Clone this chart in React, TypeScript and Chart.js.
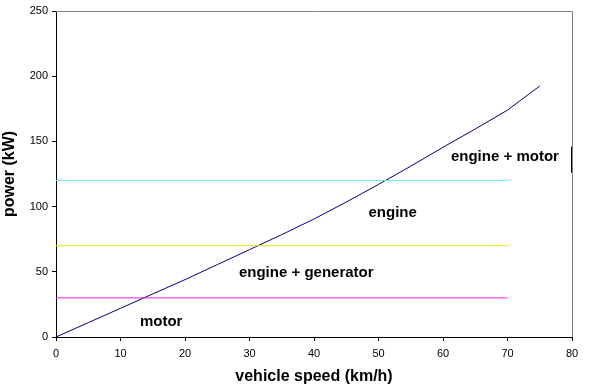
import React, { useEffect, useRef } from "react";
import { Chart, registerables } from "chart.js";

Chart.register(...registerables);

const speeds = [0, 5, 10, 15, 20, 25, 30, 35, 40, 45, 50, 55, 60, 65, 70, 75];
const power = [0, 11, 22, 33, 44, 55.5, 67, 78.5, 90.5, 103.5, 117, 131, 145.5, 159.5, 174, 192.5];

const thresholdX = [0, 70];
const motorLimit = 30;
const generatorLimit = 70;
const engineLimit = 120;

const markerX = [80, 80];
const markerY = [126, 146];

const regionNames = ["engine + motor", "engine", "engine + generator", "motor"];
const regionSpeed = [69.6, 52.2, 38.8, 16.3];
const regionPower = [138, 95, 49, 11.5];

const xTicks = [0, 10, 20, 30, 40, 50, 60, 70, 80];
const yTicks = [0, 50, 100, 150, 200, 250];

const FONT = "'Liberation Sans', Arial, sans-serif";

export default function App() {
  const ref = useRef<HTMLCanvasElement | null>(null);
  useEffect(() => {
    document.body.style.margin = "0";
    const ctx = ref.current!;
    const hline = (v: number, color: string) => ({
      data: thresholdX.map((x) => ({ x, y: v })),
      borderColor: color,
      borderWidth: 1,
      pointRadius: 0,
      showLine: true,
      fill: false,
    });
    const borderPlugin = {
      id: "frame",
      beforeDatasetsDraw(chart: any) {
        const { ctx, chartArea } = chart;
        ctx.save();
        ctx.strokeStyle = "#808080";
        ctx.lineWidth = 1;
        ctx.beginPath();
        ctx.moveTo(chartArea.left, Math.round(chartArea.top) + 0.5);
        ctx.lineTo(Math.round(chartArea.right) + 0.5, Math.round(chartArea.top) + 0.5);
        ctx.lineTo(Math.round(chartArea.right) + 0.5, chartArea.bottom);
        ctx.stroke();
        ctx.restore();
      },
      afterDatasetsDraw(chart: any) {
        const { ctx, scales } = chart;
        ctx.save();
        ctx.fillStyle = "#000";
        ctx.font = `bold 15px ${FONT}`;
        ctx.textAlign = "center";
        ctx.textBaseline = "middle";
        regionNames.forEach((t, i) => {
          ctx.fillText(t, scales.x.getPixelForValue(regionSpeed[i]), scales.y.getPixelForValue(regionPower[i]));
        });
        ctx.restore();
      },
    };
    const chart = new Chart(ctx, {
      type: "scatter",
      data: {
        datasets: [
          hline(engineLimit, "#70eeee"),
          hline(generatorLimit, "#e8e400"),
          hline(motorLimit, "#ee22ee"),
          {
            data: speeds.map((x, i) => ({ x, y: power[i] })),
            borderColor: "#000080",
            borderWidth: 1,
            pointRadius: 0,
            showLine: true,
            fill: false,
            tension: 0,
          },
          {
            data: markerX.map((x, i) => ({ x, y: markerY[i] })),
            borderColor: "#000",
            borderWidth: 2,
            pointRadius: 0,
            showLine: true,
            fill: false,
          },
        ],
      },
      options: {
        animation: false,
        responsive: false,
        maintainAspectRatio: false,
        layout: { padding: { top: 11, right: 19, left: 0, bottom: 0 } },
        plugins: { legend: { display: false }, tooltip: { enabled: false } },
        scales: {
          x: {
            type: "linear",
            min: 0,
            max: 80,
            afterBuildTicks: (s: any) => {
              s.ticks = xTicks.map((v) => ({ value: v }));
            },
            afterFit: (s: any) => {
              s.height = 52;
            },
            grid: { drawOnChartArea: false, drawTicks: true, tickLength: 4, color: "#000" },
            border: { color: "#000", width: 1 },
            ticks: { color: "#000", font: { family: FONT, size: 11 }, padding: 6, maxRotation: 0 },
            title: {
              display: true,
              text: "vehicle speed (km/h)",
              color: "#000",
              font: { family: FONT, size: 16, weight: "bold" },
              padding: { top: 2, bottom: 3 },
            },
          },
          y: {
            type: "linear",
            min: 0,
            max: 250,
            afterBuildTicks: (s: any) => {
              s.ticks = yTicks.map((v) => ({ value: v }));
            },
            afterFit: (s: any) => {
              s.width = 56;
            },
            grid: { drawOnChartArea: false, drawTicks: true, tickLength: 4, color: "#000" },
            border: { color: "#000", width: 1 },
            ticks: { color: "#000", font: { family: FONT, size: 11 }, padding: 4 },
            title: {
              display: true,
              text: "power (kW)",
              color: "#000",
              font: { family: FONT, size: 16, weight: "bold" },
              padding: { top: 0, bottom: 4 },
            },
          },
        },
      },
      plugins: [borderPlugin],
    } as any);
    return () => chart.destroy();
  }, []);
  return (
    <div style={{ width: 591, height: 389, background: "#fff" }}>
      <canvas ref={ref} width={591} height={389} style={{ display: "block" }} />
    </div>
  );
}
